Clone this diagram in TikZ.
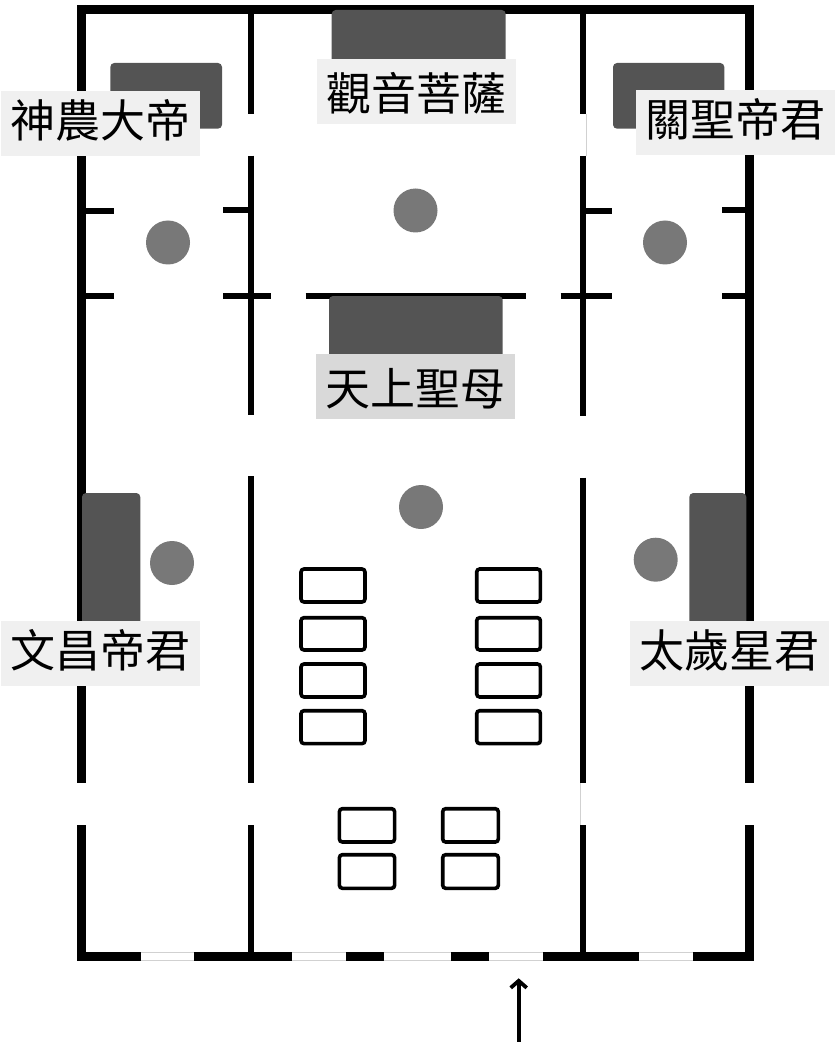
\documentclass[tikz,border=0pt]{standalone}
\usepackage{fontspec}
\newfontfamily\cjk{Noto Sans CJK TC}
\usetikzlibrary{
    arrows.meta
}
\tikzset{
    outerwall/.style={line width=9pt},
    innerwall/.style={line width=6pt},
    faintline/.style={line width=0.6pt, color=black!18},
    altar/.style={fill=black!67, rounded corners=4pt},
    pillar/.style={circle, fill=black!53, minimum size=44pt, inner sep=0pt},
    bench/.style={draw, line width=3.6pt, rounded corners=3pt},
    godlabel/.style={fill=black!6, font=\cjk\fontsize{45pt}{50pt}\selectfont, minimum width=199pt, minimum height=65pt, inner sep=0pt, text height=28.6pt, text depth=0pt}
}
\begin{document}
\begin{tikzpicture}[x=1pt, y=-1pt]
    \useasboundingbox (0, 0) rectangle (839, 1048);
    % outer walls
    \draw[outerwall] (77, 9.5) -- (754.3, 9.5);
    \draw[outerwall] (81.7, 5) -- (81.7, 783);
    \draw[outerwall] (81.7, 825.3) -- (81.7, 960.7);
    \draw[outerwall] (749.8, 5) -- (749.8, 783);
    \draw[outerwall] (749.8, 825.3) -- (749.8, 960.7);
    \draw[outerwall] (77, 956.2) -- (140.7, 956.2);
    \draw[outerwall] (194, 956.2) -- (292, 956.2);
    \draw[outerwall] (345.7, 956.2) -- (383.7, 956.2);
    \draw[outerwall] (451, 956.2) -- (489, 956.2);
    \draw[outerwall] (542.7, 956.2) -- (639, 956.2);
    \draw[outerwall] (692.7, 956.2) -- (754.3, 956.2);
    % door outlines
    \draw[faintline] (140.7, 952) -- (194, 952) (140.7, 960.5) -- (194, 960.5);
    \draw[faintline] (292, 952) -- (345.7, 952) (292, 960.5) -- (345.7, 960.5);
    \draw[faintline] (383.7, 952) -- (451, 952) (383.7, 960.5) -- (451, 960.5);
    \draw[faintline] (489, 952) -- (542.7, 952) (489, 960.5) -- (542.7, 960.5);
    \draw[faintline] (639, 952) -- (692.7, 952) (639, 960.5) -- (692.7, 960.5);
    \draw[faintline] (586.4, 114) -- (586.4, 156);
    \draw[faintline] (580.6, 783) -- (580.6, 825);
    % inner walls
    \draw[innerwall] (251, 14) -- (251, 114);
    \draw[innerwall] (251, 155.7) -- (251, 414.7);
    \draw[innerwall] (251, 476.3) -- (251, 783);
    \draw[innerwall] (251, 825.3) -- (251, 952);
    \draw[innerwall] (583.3, 14) -- (583.3, 114);
    \draw[innerwall] (583.3, 156) -- (583.3, 415.7);
    \draw[innerwall] (583.3, 477.7) -- (583.3, 783);
    \draw[innerwall] (583.3, 825.3) -- (583.3, 952);
    \draw[innerwall] (86, 211) -- (113.7, 211);
    \draw[innerwall] (223.3, 210) -- (248, 210);
    \draw[innerwall] (586, 210.7) -- (612.3, 210.7);
    \draw[innerwall] (722, 210) -- (745.3, 210);
    \draw[innerwall] (86, 296) -- (113.7, 296);
    \draw[innerwall] (223.3, 296) -- (271.3, 296);
    \draw[innerwall] (305.7, 296) -- (526, 296);
    \draw[innerwall] (560.7, 296) -- (612.3, 296);
    \draw[innerwall] (722, 296) -- (745.3, 296);
    % altars
    \fill[altar] (110.3, 63) rectangle (222, 128.7);
    \fill[altar] (613, 63) rectangle (724.3, 128.7);
    \fill[altar] (331.7, 10) rectangle (505.7, 75);
    \fill[altar] (329, 296) rectangle (502.7, 375);
    \fill[altar] (82, 493) rectangle (140.3, 640);
    \fill[altar] (689.3, 493) rectangle (746.3, 640);
    % pillars
    \node[pillar] (pillarshennong) at (168, 242.5) {};
    \node[pillar] (pillarguanyin) at (415.5, 210.5) {};
    \node[pillar] (pillarguansheng) at (665, 242.5) {};
    \node[pillar] (pillarmazu) at (421, 507) {};
    \node[pillar] (pillarwenchang) at (172, 563) {};
    \node[pillar] (pillartaisui) at (655.7, 559.7) {};
    % benches
    \draw[bench] (301, 569) rectangle (365, 602);
    \draw[bench] (301, 617.7) rectangle (365, 650);
    \draw[bench] (301, 664) rectangle (365, 697);
    \draw[bench] (301, 710.7) rectangle (365, 743.6);
    \draw[bench] (476.7, 569) rectangle (540.4, 602);
    \draw[bench] (476.7, 617.7) rectangle (540.4, 650);
    \draw[bench] (476.7, 664) rectangle (540.4, 697);
    \draw[bench] (476.7, 710.7) rectangle (540.4, 743.6);
    \draw[bench] (339.4, 808.7) rectangle (394.6, 842);
    \draw[bench] (339.4, 854.7) rectangle (394.6, 888.3);
    \draw[bench] (442.7, 808.7) rectangle (498.3, 842);
    \draw[bench] (442.7, 854.7) rectangle (498.3, 888.3);
    % labels
    \node[godlabel] (shennong) at (100.5, 123.7) {神農大帝};
    \node[godlabel, text height=39.6pt] (guanyin) at (416.5, 91.2) {觀音菩薩};
    \node[godlabel] (guansheng) at (735.3, 122.3) {關聖帝君};
    \node[godlabel, fill=black!15, text height=36.6pt] (mazu) at (415.8, 386.7) {天上聖母};
    \node[godlabel] (wenchang) at (100.5, 653.3) {文昌帝君};
    \node[godlabel] (taisui) at (729.5, 653.3) {太歲星君};
    % entrance
    \coordinate (entrancefoot) at (518.7, 1041.7);
    \coordinate (entrancetip) at (518.7, 978.3);
    \draw[-{Straight Barb[length=7pt, width=16pt]}, line width=3.8pt] (entrancefoot) -- (entrancetip);
\end{tikzpicture}
\end{document}
